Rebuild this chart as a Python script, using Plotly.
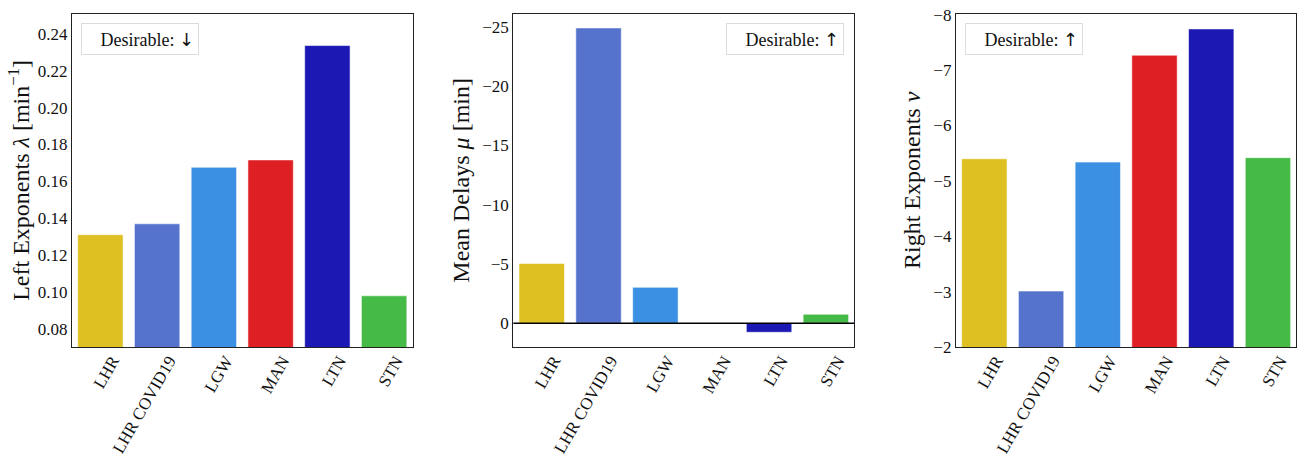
import plotly.graph_objects as go

airports = ["LHR", "LHR COVID19", "LGW", "MAN", "LTN", "STN"]
colors = ["#dfc022", "#5573cd", "#3c90e3", "#de2024", "#1b18b3", "#46ba46"]

left_exponents = [0.1310, 0.1369, 0.1676, 0.1716, 0.2337, 0.0978]
mean_delays = [-5.05, -24.9, -3.03, 0.0, 0.76, -0.76]
right_exponents = [-5.40, -3.01, -5.34, -7.27, -7.745, -5.42]

left_ticks = [0.08, 0.10, 0.12, 0.14, 0.16, 0.18, 0.20, 0.22, 0.24]
mid_ticks = [0, -5, -10, -15, -20, -25]
right_ticks = [-2, -3, -4, -5, -6, -7, -8]

FONT = "Liberation Serif"
W, H = 1304, 458

fig = go.Figure()
for i, vals in enumerate([left_exponents, mean_delays, right_exponents]):
    sfx = "" if i == 0 else str(i + 1)
    fig.add_trace(go.Bar(
        x=airports, y=vals, marker=dict(color=colors, line=dict(color="rgba(255,255,255,0.55)", width=1)),
        width=0.8, xaxis="x" + sfx, yaxis="y" + sfx, showlegend=False,
    ))

ytop = 1 - 13.7 / H
ybot = 1 - 347 / H
doms = [(72 / W, 412.5 / W), (513.3 / W, 854.3 / W), (956 / W, 1296.3 / W)]

axis_common = dict(showline=True, linecolor="#222222", linewidth=1.3, mirror=True,
                   showgrid=False, zeroline=False, ticks="", automargin=False,
                   tickfont=dict(family=FONT, size=17, color="#111111"))

layout = dict(width=W, height=H, margin=dict(l=0, r=0, t=0, b=0, autoexpand=False),
              plot_bgcolor="white", paper_bgcolor="white",
              font=dict(family=FONT, color="#111111"), bargap=0.2)

titles = ["Left Exponents <i>λ</i> [min<sup>−1</sup>]", "Mean Delays <i>μ</i> [min]", "Right Exponents <i>ν</i>"]
ranges = [[0.0700, 0.2510], [2.0, -26.1], [-2.0, -8.02]]
tickvals = [left_ticks, mid_ticks, right_ticks]
tickfmt = [".2f", "d", "d"]
standoffs = [1, 5, 5]

for i in range(3):
    sfx = "" if i == 0 else str(i + 1)
    layout["xaxis" + sfx] = dict(axis_common, domain=list(doms[i]), anchor="y" + sfx,
                                 tickangle=-60, range=[-0.5, 5.5], ticklabelshift=12,
                                 ticklabelstandoff=-4,
                                 type="category", tickfont=dict(family=FONT, size=17, color="#111111"))
    layout["yaxis" + sfx] = dict(axis_common, domain=[ybot, ytop], anchor="x" + sfx,
                                 range=ranges[i], tickvals=tickvals[i], tickformat=tickfmt[i],
                                 title=dict(text=titles[i], font=dict(family=FONT, size=24),
                                            standoff=standoffs[i]))

fig.update_layout(**layout)

# zero line in middle panel
fig.add_shape(type="line", xref="x2 domain", yref="y2", x0=0, x1=1, y0=0, y1=0,
              line=dict(color="black", width=1.5))

ARROW = "<span style='font-family:DejaVu Sans'>{}</span>"
legends = [("Desirable: " + ARROW.format("↓"), 81), ("Desirable: " + ARROW.format("↑"), 726.3),
           ("Desirable: " + ARROW.format("↑"), 964.7)]
for txt, xl in legends:
    fig.add_annotation(xref="paper", yref="paper", x=xl / W, y=1 - 22.7 / H,
                       xanchor="left", yanchor="top", text=txt, showarrow=False,
                       align="right", width=108, height=22, borderpad=4,
                       bordercolor="#dcdcdc", borderwidth=1, bgcolor="white",
                       font=dict(family=FONT, size=18, color="#111111"))

fig.write_html("out.html", config={"displayModeBar": False},
               post_script="document.body.style.margin='0';document.body.style.overflow='hidden';")
